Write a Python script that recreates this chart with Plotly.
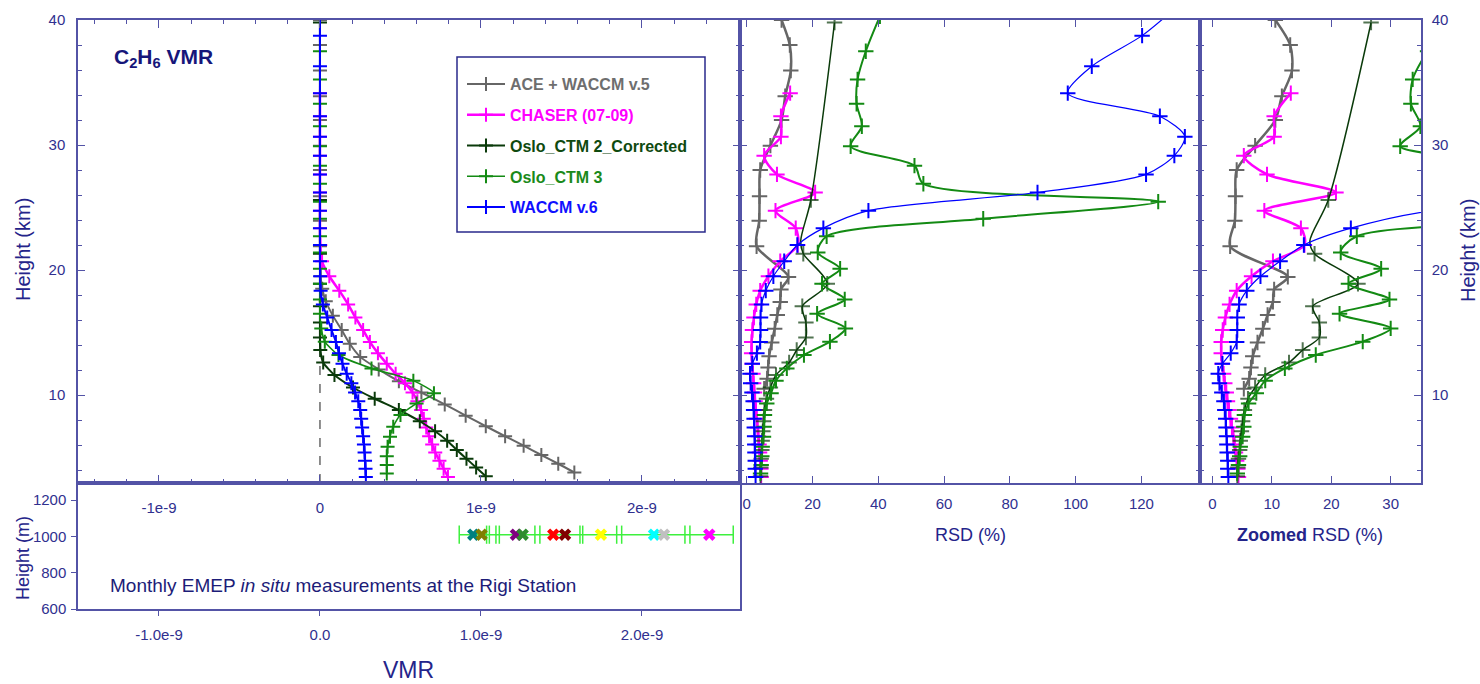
import plotly.graph_objects as go

# ---------------- data ----------------
# ACE + WACCM v.5
ace_h = [3.8, 4.5, 5.2, 5.95, 6.7, 7.5, 8.35, 9.25, 10.2, 11.1, 12.05, 13.05, 14.1, 15.2, 16.35, 17.5,
         18.5, 19.5, 21.9, 23.95, 25.9, 28.0, 29.95, 32.0, 33.9, 35.95, 38.0, 40.0]
ace_vmr = [1.58, 1.48, 1.375, 1.265, 1.15, 1.03, 0.905, 0.775, 0.63, 0.49, 0.365, 0.25, 0.185, 0.135,
           0.08, 0.036, 0.014, 0.004, 0, 0, 0, 0, 0, 0, 0, 0, 0, 0]
ace_rsd_h = [10.5, 11.3, 12.2, 13.1, 14.2, 15.3, 16.4, 17.45, 18.45, 19.45, 21.9, 23.95, 25.9, 28.0,
             29.95, 32.0, 33.9, 35.95, 38.0, 40.0]
ace_rsd = [5.3, 6.2, 6.5, 6.8, 7.6, 8.5, 9.3, 10.2, 10.4, 12.7, 3.0, 3.8, 3.9, 4.1, 7.2, 10.6, 11.7,
           13.4, 13.1, 10.6]

# CHASER (07-09)
chaser_h = [3.45, 4.1, 4.75, 5.4, 6.05, 6.7, 7.4, 8.1, 8.8, 9.5, 10.2, 10.95, 11.7, 12.5, 13.35, 14.25,
            15.2, 16.2, 17.25, 18.35, 19.5, 20.7, 22.0, 23.35, 24.75, 26.2, 27.65, 29.15, 30.67, 32.3, 34.15]
chaser_vmr = [0.795, 0.768, 0.742, 0.716, 0.697, 0.678, 0.66, 0.645, 0.628, 0.605, 0.575, 0.528, 0.47,
              0.415, 0.36, 0.31, 0.268, 0.22, 0.175, 0.12, 0.058, 0.013, 0.002, 0, 0, 0, 0, 0, 0, 0, 0]
chaser_rsd = [4.4, 4.3, 4.1, 3.9, 3.75, 3.55, 3.3, 3.05, 2.8, 2.55, 2.35, 2.1, 1.9, 1.65, 1.5, 1.5, 1.75,
              2.2, 2.9, 4.1, 6.6, 10.2, 15.5, 14.9, 8.75, 20.8, 9.2, 5.3, 10.4, 10.4, 13.2]

# Oslo_CTM 2_Corrected
oslo2_h = [3.5, 4.2, 4.9, 5.6, 6.35, 7.1, 7.9, 8.8, 9.7, 10.6, 11.6, 12.6, 13.6, 14.6, 15.8, 17.1, 18.9,
           21.3, 22.3, 25.6, 39.8]
oslo2_vmr = [1.03, 0.97, 0.91, 0.85, 0.79, 0.715, 0.62, 0.49, 0.34, 0.205, 0.09, 0.02, 0.002, 0, 0, 0,
             0, 0, None, 0, 0]
oslo2_rsd = [4.2, 4.3, 4.4, 4.6, 4.7, 4.9, 5.1, 5.4, 6.0, 7.2, 8.9, 12.9, 15.2, 18.0, 18.0, 16.9, 24.5,
             17.2, 16.4, 19.5, 26.7]
oslo2_marked = [True] * 18 + [False] + [True, True]

# Oslo_CTM 3
oslo3_h = [3.73, 4.4, 5.1, 5.87, 6.67, 7.47, 8.4, 9.33, 10.15, 11.15, 12.13, 13.2, 14.27, 15.33, 16.5,
           17.65, 18.9, 20.1, 21.4, 22.7, 24.1, 25.47, 26.9, 28.35, 29.9, 31.5, 33.3, 35.25, 37.5, 40.3]
oslo3_vmr = [0.415, 0.415, 0.415, 0.42, 0.435, 0.455, 0.5, 0.6, 0.708, 0.58, 0.32, 0.115, 0.03, 0.008,
             0, 0, 0, 0, 0, 0, 0, 0, 0, 0, 0, 0, 0, 0, 0, 0]
oslo3_rsd = [4.2, 4.4, 4.6, 4.7, 5.1, 5.3, 5.4, 6.1, 7.4, 8.9, 12.2, 17.4, 25.3, 30.0, 21.4, 29.8, 22.9,
             28.4, 21.6, 24.3, 71.9, 125.1, 53.7, 51.0, 31.6, 35.0, 33.4, 33.7, 36.2, 40.5]

# WACCM v.6
waccm_h = [3.45, 4.1, 4.75, 5.4, 6.05, 6.7, 7.4, 8.1, 8.8, 9.5, 10.2, 10.95, 11.7, 12.5, 13.35, 14.25,
           15.2, 16.2, 17.25, 18.35, 19.5, 20.7, 22.0, 23.35, 24.75, 26.2, 27.65, 29.15, 30.67, 32.3,
           34.15, 36.3, 38.75, 41.0]
waccm_vmr = [0.285, 0.283, 0.28, 0.277, 0.273, 0.268, 0.262, 0.256, 0.25, 0.238, 0.218, 0.195, 0.166,
             0.14, 0.118, 0.099, 0.072, 0.045, 0.018, 0.004, 0.001, 0, 0, 0, 0, 0, 0, 0, 0, 0, 0, 0, 0, 0]
waccm_rsd = [2.7, 2.6, 2.6, 2.5, 2.45, 2.4, 2.3, 2.25, 2.1, 1.95, 1.6, 1.2, 1.0, 1.7, 3.1, 4.1, 4.2, 4.2,
             4.5, 5.8, 8.1, 11.4, 15.4, 23.3, 37.0, 88.4, 121.4, 130.0, 133.2, 125.6, 97.6, 104.9,
             120.2, 130.5]

# Rigi station (EMEP in situ, monthly), VMR in units of 1e-9
rigi_height = 1010
rigi_bar_x = [0.865, 1.035, 1.052, 1.093, 1.114, 1.335, 1.366, 1.615, 1.632, 1.843, 1.874, 2.267,
              2.298, 2.567]
rigi_month_x = [0.952, 1.004, 1.217, 1.259, 1.449, 1.522, 1.745, 2.075, 2.137, 2.418]
rigi_month_colors = ["#008080", "#808000", "#800080", "#2e8b2e", "#ff0000", "#800000", "#ffff00",
                     "#00ffff", "#c0c0c0", "#ff00ff"]

vmr_ticks = [-1, 0, 1, 2]
vmr_ticktext_top = ["-1e-9", "0", "1e-9", "2e-9"]
vmr_ticktext_bottom = ["-1.0e-9", "0.0", "1.0e-9", "2.0e-9"]
height_ticks = [10, 20, 30, 40]
height_m_ticks = [600, 800, 1000, 1200]
rsd_ticks = [0, 20, 40, 60, 80, 100, 120]
zoom_ticks = [0, 10, 20, 30]

series = [
    ("ACE + WACCM v.5", "#666666", "#6e6e6e", ace_h, ace_vmr, ace_rsd_h, ace_rsd, 2.0, 2.5, None),
    ("CHASER (07-09)", "#ff00ff", "#ff00ff", chaser_h, chaser_vmr, chaser_h, chaser_rsd, 2.5, 2.5, None),
    ("Oslo_CTM 2_Corrected", "#0a3a0a", "#0f4a0f", oslo2_h, oslo2_vmr, oslo2_h, oslo2_rsd, 2.0, 1.5,
     oslo2_marked),
    ("Oslo_CTM 3", "#138a13", "#1a8a1a", oslo3_h, oslo3_vmr, oslo3_h, oslo3_rsd, 1.6, 2.0, None),
    ("WACCM v.6", "#0000ff", "#1010ff", waccm_h, waccm_vmr, waccm_h, waccm_rsd, 2.0, 1.2, None),
]

# ---------------- figure ----------------
W, H = 1480, 684
def px(x):
    return x / W
def py(y):
    return 1 - y / H

FONT = "Liberation Sans, Arial, sans-serif"
AX = "#5353a6"
TICKC = "#30308f"
TITLEC = "#24248a"

fig = go.Figure()

for name, col, tcol, h, vmr, rh, rsd, wv, wr, marked in series:
    lbl = "<span style='color:%s'>%s</span>" % (tcol, name)
    fig.add_trace(go.Scatter(
        x=vmr, y=h, mode="lines+markers", name=lbl, legendgroup=name, showlegend=True,
        connectgaps=True,
        line=dict(color=col, width=wv, shape="spline", smoothing=0.6),
        marker=dict(symbol="cross-thin", size=10, color=col, line=dict(color=col, width=2)),
        xaxis="x", yaxis="y"))
for name, col, tcol, h, vmr, rh, rsd, wv, wr, marked in series:
    msizes = 11 if marked is None else [11 if m else 0 for m in marked]
    for xa, ya in (("x3", "y3"), ("x4", "y4")):
        fig.add_trace(go.Scatter(
            x=rsd, y=rh, mode="lines+markers", showlegend=False, legendgroup=name,
            line=dict(color=col, width=wr, shape="spline", smoothing=0.8),
            marker=dict(symbol="cross-thin", size=msizes, color=col, line=dict(color=col, width=2)),
            xaxis=xa, yaxis=ya))

# Rigi station panel
fig.add_trace(go.Scatter(
    x=rigi_bar_x, y=[rigi_height] * len(rigi_bar_x), mode="lines+markers", showlegend=False,
    line=dict(color="#3df03d", width=1.5),
    marker=dict(symbol="line-ns", size=13, color="#3df03d", line=dict(color="#3df03d", width=1.5)),
    xaxis="x2", yaxis="y2"))
fig.add_trace(go.Scatter(
    x=rigi_month_x, y=[rigi_height] * len(rigi_month_x), mode="markers", showlegend=False,
    marker=dict(symbol="x", size=11, color=rigi_month_colors, line=dict(width=0)),
    xaxis="x2", yaxis="y2"))

tickfont = dict(family=FONT, size=15, color=TICKC)
common = dict(showline=True, linecolor=AX, linewidth=1.5, tickcolor=AX, tickwidth=1.2,
              showgrid=False, zeroline=False, tickfont=tickfont, tickmode="array",
              automargin=False)

fig.update_layout(
    width=W, height=H, margin=dict(l=0, r=0, t=0, b=0, autoexpand=False),
    paper_bgcolor="white", plot_bgcolor="rgba(0,0,0,0)",
    font=dict(family=FONT, color=TICKC),
    xaxis=dict(domain=[px(78), px(740)], anchor="y", range=[-1.503, 2.609],
               tickvals=vmr_ticks, ticktext=vmr_ticktext_top, ticks="inside", ticklen=8,
               mirror="allticks", ticklabelstandoff=10,
               minor=dict(ticks="inside", ticklen=4, dtick=0.2, tick0=0, tickcolor=AX), **common),
    yaxis=dict(domain=[py(483), py(20)], anchor="x", range=[2.96, 40],
               tickvals=height_ticks, ticks="inside", ticklen=7, mirror="allticks",
               ticklabelstandoff=8,
               minor=dict(ticks="inside", ticklen=4, dtick=2, tick0=0, tickcolor=AX), **common),
    xaxis2=dict(domain=[px(78), px(740)], anchor="y2", range=[-1.503, 2.609],
                tickvals=vmr_ticks, ticktext=vmr_ticktext_bottom, ticks="outside", ticklen=5,
                mirror=True, ticklabelstandoff=6, **common),
    yaxis2=dict(domain=[py(609), py(483)], anchor="x2", range=[600, 1295],
                tickvals=height_m_ticks, ticks="outside", ticklen=5, mirror=True,
                ticklabelstandoff=2, **common),
    xaxis3=dict(domain=[px(740), px(1200)], anchor="y3", range=[-2.04, 137.8],
                tickvals=rsd_ticks, ticks="inside", ticklen=7, mirror="allticks",
                ticklabelstandoff=6, **common),
    yaxis3=dict(domain=[py(483), py(20)], anchor="x3", range=[2.96, 40],
                tickvals=height_ticks, ticks="inside", ticklen=7, mirror="allticks",
                showticklabels=False,
                minor=dict(ticks="inside", ticklen=4, dtick=2, tick0=0, tickcolor=AX), **common),
    xaxis4=dict(domain=[px(1200), px(1421)], anchor="y4", range=[-2.07, 35.1],
                tickvals=zoom_ticks, ticks="inside", ticklen=7, mirror="allticks",
                ticklabelstandoff=6, **common),
    yaxis4=dict(domain=[py(483), py(20)], anchor="x4", side="right", range=[2.96, 40],
                tickvals=height_ticks, ticks="inside", ticklen=7, mirror="allticks",
                ticklabelstandoff=6,
                minor=dict(ticks="inside", ticklen=4, dtick=2, tick0=0, tickcolor=AX), **common),
    legend=dict(x=px(462), y=py(67), xanchor="left", yanchor="top", bgcolor="rgba(0,0,0,0)",
                borderwidth=0, tracegroupgap=7, itemwidth=38,
                font=dict(family=FONT, size=16, weight="bold")),
    showlegend=True,
)

# legend frame
fig.add_shape(type="rect", xref="paper", yref="paper", x0=px(457), x1=px(705), y0=py(232), y1=py(57),
              line=dict(color="#2a2a8c", width=1.5), fillcolor="rgba(0,0,0,0)", layer="above")
# zero reference line
fig.add_shape(type="line", xref="x", yref="y domain", x0=0, x1=0, y0=0, y1=1,
              line=dict(color="#444444", width=1.2, dash="dash"), layer="below")

def ann(text, x, y, size, color=TITLEC, angle=0, xanchor="center", bold=False):
    fig.add_annotation(text=text, x=px(x), y=py(y), xref="paper", yref="paper", showarrow=False,
                       xanchor=xanchor, yanchor="middle", textangle=angle,
                       font=dict(family=FONT, size=size, color=color,
                                 weight="bold" if bold else "normal"))

ann("C<sub>2</sub>H<sub>6</sub> VMR", 112, 58, 21, "#16167a", xanchor="left", bold=True)
ann("Height (km)", 23, 250, 20, angle=-90)
ann("Height (km)", 1468, 251, 20, angle=-90)
ann("Height (m)", 23, 558, 18, angle=-90)
ann("VMR", 408, 670, 23)
ann("RSD (%)", 970, 535, 18)
ann("<b>Zoomed</b> RSD (%)", 1310, 535, 18)
ann("Monthly EMEP <i>in situ</i> measurements at the Rigi Station", 108, 585, 19, "#1c1c78",
    xanchor="left")

fig.write_html("out.html", config={"displayModeBar": False},
               post_script="document.documentElement.style.margin='0';"
                           "document.body.style.margin='0';"
                           "document.body.style.overflow='hidden';")
